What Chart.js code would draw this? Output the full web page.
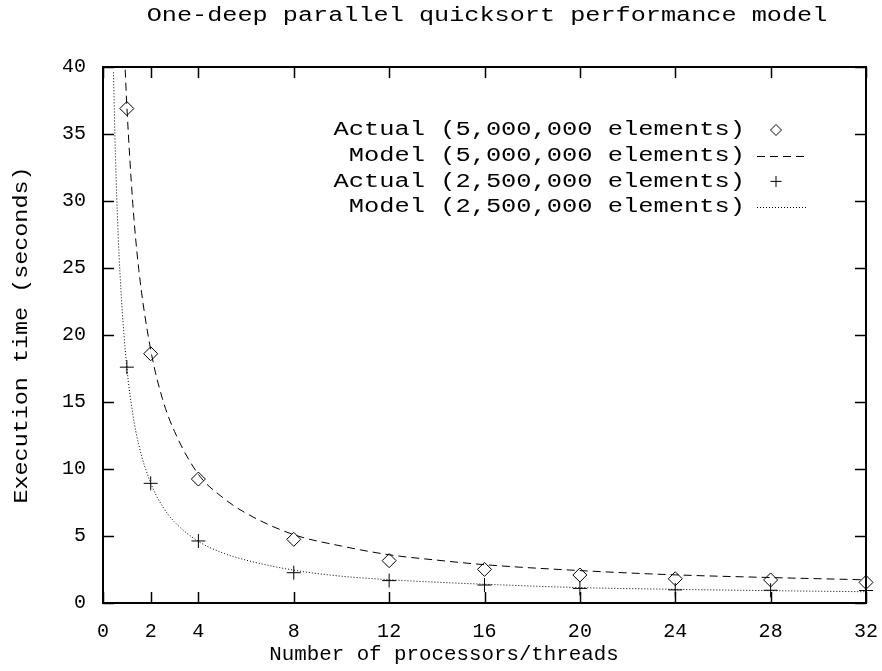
<!DOCTYPE html>
<html>
<head>
<meta charset="utf-8">
<script src="https://cdn.jsdelivr.net/npm/chart.js@4.4.1/dist/chart.umd.min.js"></script>
<style>
  html, body { margin: 0; padding: 0; background: #fff; }
  #wrap { width: 882px; height: 671px; }
</style>
</head>
<body>
<div id="wrap"><canvas id="chart" width="882" height="671"></canvas></div>
<script>
const FONT = '"Liberation Mono", "DejaVu Sans Mono", monospace';

const titleText = 'One-deep parallel quicksort performance model';
const xTitle = 'Number of processors/threads';
const yTitle = 'Execution time (seconds)';
const xTickValues = [0, 2, 4, 8, 12, 16, 20, 24, 28, 32];
const yTickValues = [0, 5, 10, 15, 20, 25, 30, 35, 40];

// measured runs
const actualThreads = [1, 2, 4, 8, 12, 16, 20, 24, 28, 32];
const actual5M = [36.9, 18.6, 9.25, 4.75, 3.16, 2.51, 2.09, 1.81, 1.72, 1.54];
const actual25M = [17.6, 8.93, 4.63, 2.26, 1.67, 1.34, 1.09, 0.98, 0.95, 0.93];

// model curves
const model5MX = [0.93, 1, 1.25, 1.5, 2, 2.5, 3, 4, 5, 6, 8, 10, 12, 14, 16, 20, 24, 28, 32];
const model5MY = [39.8, 37.1, 29.8, 24.9, 18.9, 15.2, 12.8, 9.6, 7.9, 6.7, 5.1, 4.25, 3.6, 3.2, 2.86, 2.42, 2.1, 1.9, 1.73];
const model25MX = [0.44, 0.5, 0.6, 0.75, 1, 1.25, 1.5, 2, 2.5, 3, 4, 5, 6, 8, 10, 12, 14, 16, 20, 24, 28, 32];
const model25MY = [39.6, 34.9, 29.1, 23.4, 17.6, 14.1, 11.8, 8.95, 7.2, 6.05, 4.6, 3.75, 3.2, 2.45, 2.0, 1.74, 1.55, 1.4, 1.15, 1.02, 0.92, 0.84];

const legendLabels = [
  'Actual (5,000,000 elements)',
  'Model (5,000,000 elements)',
  'Actual (2,500,000 elements)',
  'Model (2,500,000 elements)'
];

const pts = (xs, ys) => xs.map((x, i) => ({ x, y: ys[i] }));

// text a bit wider than the font's own pitch, like the original output
function wideText(ctx, text, x, y, sx, align) {
  ctx.save();
  ctx.translate(x, y);
  ctx.scale(sx, 1);
  ctx.textAlign = align;
  ctx.fillText(text, 0, 0);
  ctx.restore();
}

// gnuplot style frame with inward ticks on all four sides
const framePlugin = {
  id: 'frame',
  afterDatasetsDraw(chart) {
    const { ctx, chartArea: a, scales } = chart;
    ctx.save();
    ctx.strokeStyle = '#000';
    ctx.lineWidth = 1.5;
    ctx.beginPath();
    xTickValues.forEach(v => {
      const px = Math.round(scales.x.getPixelForValue(v)) + 0.5;
      ctx.moveTo(px, a.bottom); ctx.lineTo(px, a.bottom - 11);
      ctx.moveTo(px, a.top); ctx.lineTo(px, a.top + 11);
    });
    yTickValues.forEach(v => {
      const py = Math.round(scales.y.getPixelForValue(v)) + 0.5;
      ctx.moveTo(a.left, py); ctx.lineTo(a.left + 11, py);
      ctx.moveTo(a.right, py); ctx.lineTo(a.right - 11, py);
    });
    ctx.stroke();
    ctx.lineWidth = 2;
    ctx.strokeRect(a.left, a.top, a.right - a.left, a.bottom - a.top);
    ctx.restore();
  }
};

// key in the top right, text right aligned and sample to its right
const keyPlugin = {
  id: 'key',
  afterDraw(chart) {
    const { ctx } = chart;
    const textRight = 745, sx0 = 757, sx1 = 806, y0 = 130, dy = 25.7;
    ctx.save();
    ctx.font = '20px ' + FONT;
    ctx.textBaseline = 'middle';
    chart.data.datasets.forEach((ds, i) => {
      const y = y0 + i * dy;
      ctx.fillStyle = '#000';
      wideText(ctx, ds.label, textRight, y, 1.27, 'right');
      ctx.strokeStyle = '#000';
      ctx.lineWidth = 1;
      if (ds.showLine === false) {
        ctx.fillStyle = 'rgba(0,0,0,0)';
        Chart.helpers.drawPoint(ctx, { pointStyle: ds.pointStyle, radius: 5.5, borderWidth: 1 }, 776, y);
      } else {
        ctx.setLineDash(ds.borderDash);
        ctx.beginPath();
        ctx.moveTo(sx0, Math.round(y) + 0.5);
        ctx.lineTo(sx1, Math.round(y) + 0.5);
        ctx.stroke();
        ctx.setLineDash([]);
      }
    });
    ctx.restore();
  }
};

const labelsPlugin = {
  id: 'labels',
  afterDraw(chart) {
    const { ctx, chartArea: a } = chart;
    ctx.save();
    ctx.font = '20px ' + FONT;
    ctx.fillStyle = '#000';
    ctx.textBaseline = 'middle';
    wideText(ctx, titleText, 487, 16, 1.26, 'center');
    wideText(ctx, xTitle, 444, 655, 1.04, 'center');
    ctx.translate(22, (a.top + a.bottom) / 2);
    ctx.rotate(-Math.PI / 2);
    wideText(ctx, yTitle, 0, 0, 1.17, 'center');
    ctx.restore();
  }
};

new Chart(document.getElementById('chart'), {
  type: 'scatter',
  data: {
    datasets: [
      {
        label: legendLabels[0],
        data: pts(actualThreads, actual5M),
        showLine: false,
        pointStyle: 'rectRot',
        pointRadius: 7,
        pointBorderWidth: 1,
        borderColor: '#000',
        backgroundColor: 'rgba(0,0,0,0)'
      },
      {
        label: legendLabels[1],
        data: pts(model5MX, model5MY),
        showLine: true,
        borderColor: '#000',
        borderWidth: 1,
        borderDash: [8, 5],
        pointRadius: 0,
        cubicInterpolationMode: 'monotone'
      },
      {
        label: legendLabels[2],
        data: pts(actualThreads, actual25M),
        showLine: false,
        pointStyle: 'cross',
        pointRadius: 7,
        pointBorderWidth: 1,
        borderColor: '#000',
        backgroundColor: 'rgba(0,0,0,0)'
      },
      {
        label: legendLabels[3],
        data: pts(model25MX, model25MY),
        showLine: true,
        borderColor: '#000',
        borderWidth: 1,
        borderDash: [1, 2],
        pointRadius: 0,
        cubicInterpolationMode: 'monotone'
      }
    ]
  },
  options: {
    responsive: false,
    animation: false,
    clip: false,
    layout: { padding: { top: 67, right: 0, left: 0, bottom: 0 } },
    plugins: {
      legend: { display: false },
      tooltip: { enabled: false },
      title: { display: false }
    },
    scales: {
      x: {
        type: 'linear',
        min: 0, max: 32,
        afterBuildTicks: s => { s.ticks = xTickValues.map(v => ({ value: v })); },
        afterFit: s => { s.height = 68; s.paddingRight = 16; s.paddingLeft = 0; },
        grid: { display: false, drawTicks: false },
        border: { display: false },
        ticks: { color: '#000', font: { family: FONT, size: 20 }, padding: 17, maxRotation: 0 },
        title: { display: false }
      },
      y: {
        type: 'linear',
        min: 0, max: 40,
        afterBuildTicks: s => { s.ticks = yTickValues.map(v => ({ value: v })); },
        afterFit: s => { s.width = 103; },
        grid: { display: false, drawTicks: false },
        border: { display: false },
        ticks: { color: '#000', font: { family: FONT, size: 20 }, padding: 17 },
        title: { display: false }
      }
    }
  },
  plugins: [framePlugin, keyPlugin, labelsPlugin]
});
</script>
</body>
</html>
